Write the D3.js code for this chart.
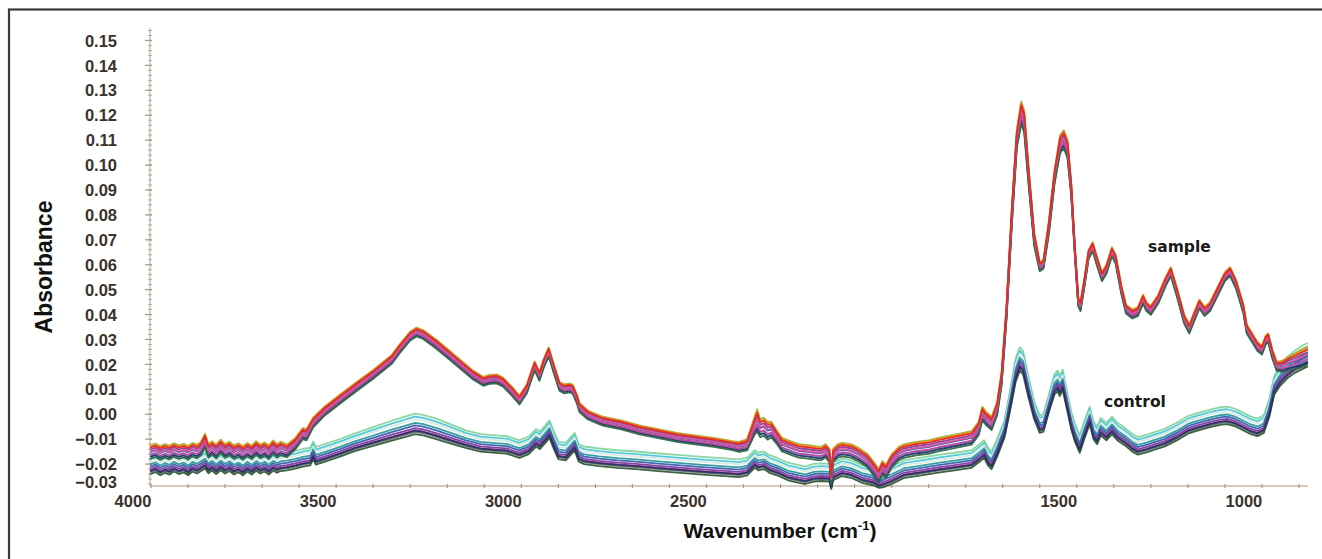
<!DOCTYPE html>
<html>
<head>
<meta charset="utf-8">
<script src="https://cdn.jsdelivr.net/npm/d3@7"></script>
<style>
  html, body { margin: 0; padding: 0; background: #ffffff; }
  svg { display: block; }
</style>
</head>
<body>
<svg id="chart" width="1322" height="559"></svg>
<script>
// ---------------- DATA ----------------
// Tick labels
const yTickLabels = [0.15, 0.14, 0.13, 0.12, 0.11, 0.10, 0.09, 0.08, 0.07, 0.06, 0.05, 0.04, 0.03, 0.02, 0.01, 0.00, -0.01, -0.02, -0.03];
const xTickLabels = [4000, 3500, 3000, 2500, 2000, 1500, 1000];

// Mean spectrum of the "sample" group: [wavenumber, absorbance, band half-width]
const sampleSpectrum = [
  [3952,-0.0155,0.003],[3938,-0.0148,0.003],[3925,-0.0158,0.003],[3912,-0.0150,0.003],[3900,-0.0157,0.003],
  [3888,-0.0146,0.003],[3875,-0.0155,0.003],[3862,-0.0149,0.003],[3850,-0.0157,0.003],[3838,-0.0145,0.003],
  [3826,-0.0152,0.003],[3815,-0.0140,0.003],[3804,-0.0108,0.003],[3795,-0.0150,0.003],[3785,-0.0138,0.003],
  [3774,-0.0152,0.003],[3762,-0.0132,0.003],[3750,-0.0150,0.003],[3738,-0.0140,0.003],[3726,-0.0155,0.003],
  [3714,-0.0147,0.003],[3702,-0.0158,0.003],[3690,-0.0145,0.003],[3678,-0.0156,0.003],[3666,-0.0138,0.003],
  [3655,-0.0152,0.003],[3643,-0.0143,0.003],[3632,-0.0155,0.003],[3620,-0.0135,0.003],[3610,-0.0150,0.003],
  [3600,-0.0140,0.003],[3583,-0.0150,0.0028],[3560,-0.0120,0.0025],[3540,-0.0080,0.0025],[3530,-0.0085,0.0025],
  [3512,-0.0035,0.0022],[3480,0.0012,0.002],[3440,0.0058,0.002],[3400,0.0103,0.002],[3350,0.0158,0.002],
  [3300,0.0218,0.002],[3278,0.0262,0.002],[3250,0.0312,0.002],[3233,0.0328,0.002],[3215,0.0318,0.002],
  [3180,0.0280,0.002],[3140,0.0230,0.002],[3100,0.0180,0.002],[3080,0.0155,0.002],[3053,0.0130,0.002],
  [3035,0.0138,0.002],[3017,0.0140,0.002],[3000,0.0128,0.002],[2975,0.0090,0.002],[2955,0.0055,0.002],
  [2935,0.0100,0.002],[2914,0.0192,0.002],[2901,0.0150,0.002],[2890,0.0200,0.002],[2876,0.0248,0.002],
  [2862,0.0180,0.002],[2847,0.0110,0.002],[2835,0.0100,0.002],[2820,0.0104,0.002],[2811,0.0098,0.002],
  [2800,0.0060,0.002],[2793,0.0025,0.002],[2770,-0.0005,0.002],[2730,-0.0030,0.002],[2680,-0.0045,0.002],
  [2631,-0.0065,0.002],[2580,-0.0080,0.002],[2530,-0.0095,0.002],[2480,-0.0105,0.002],[2430,-0.0115,0.002],
  [2380,-0.0128,0.002],[2362,-0.0133,0.0022],[2340,-0.0125,0.0025],[2320,-0.0050,0.004],[2313,-0.0030,0.005],
  [2305,-0.0060,0.004],[2295,-0.0055,0.004],[2285,-0.0070,0.004],[2275,-0.0065,0.0035],[2260,-0.0095,0.003],
  [2246,-0.0125,0.003],[2220,-0.0140,0.003],[2201,-0.0150,0.003],[2170,-0.0155,0.003],[2150,-0.0160,0.003],
  [2139,-0.0160,0.003],[2128,-0.0150,0.003],[2118,-0.0168,0.003],[2113,-0.0265,0.002],[2108,-0.0168,0.003],
  [2095,-0.0150,0.003],[2084,-0.0145,0.003],[2060,-0.0150,0.003],[2039,-0.0165,0.003],[2015,-0.0190,0.003],
  [1995,-0.0228,0.003],[1985,-0.0250,0.003],[1975,-0.0218,0.003],[1965,-0.0232,0.003],[1950,-0.0190,0.003],
  [1930,-0.0160,0.003],[1915,-0.0150,0.003],[1880,-0.0140,0.003],[1850,-0.0135,0.003],[1824,-0.0125,0.003],
  [1780,-0.0112,0.003],[1734,-0.0098,0.003],[1715,-0.0060,0.003],[1705,0.0000,0.003],[1695,-0.0020,0.003],
  [1680,-0.0040,0.003],[1665,0.0020,0.003],[1653,0.0140,0.003],[1640,0.0400,0.003],[1625,0.0800,0.004],
  [1612,0.1100,0.004],[1600,0.1205,0.005],[1592,0.1170,0.005],[1580,0.0950,0.004],[1565,0.0700,0.003],
  [1550,0.0590,0.002],[1540,0.0600,0.002],[1525,0.0750,0.003],[1510,0.0950,0.003],[1495,0.1080,0.004],
  [1485,0.1100,0.004],[1475,0.1060,0.004],[1465,0.0900,0.003],[1455,0.0650,0.002],[1446,0.0450,0.002],
  [1440,0.0430,0.002],[1430,0.0520,0.002],[1418,0.0640,0.002],[1407,0.0670,0.002],[1395,0.0610,0.002],
  [1382,0.0550,0.002],[1370,0.0580,0.002],[1355,0.0650,0.002],[1345,0.0620,0.002],[1330,0.0500,0.002],
  [1317,0.0420,0.002],[1300,0.0400,0.002],[1285,0.0410,0.002],[1271,0.0460,0.002],[1262,0.0430,0.002],
  [1250,0.0415,0.002],[1230,0.0460,0.002],[1210,0.0530,0.002],[1196,0.0570,0.002],[1180,0.0490,0.002],
  [1160,0.0380,0.002],[1146,0.0340,0.002],[1130,0.0400,0.002],[1119,0.0440,0.002],[1105,0.0410,0.002],
  [1090,0.0430,0.002],[1070,0.0490,0.002],[1050,0.0550,0.002],[1036,0.0570,0.002],[1020,0.0520,0.002],
  [1000,0.0420,0.002],[991,0.0340,0.002],[962,0.0270,0.002],[950,0.0255,0.002],[940,0.0295,0.002],
  [933,0.0305,0.002],[922,0.0240,0.002],[910,0.0190,0.002],[895,0.0190,0.0025],[880,0.0200,0.003],
  [860,0.0210,0.0035],[840,0.0222,0.004],[826,0.0232,0.004]
];

// Mean spectrum of the "control" group: [wavenumber, absorbance, band half-width]
const controlSpectrum = [
  [3952,-0.0210,0.003],[3938,-0.0202,0.003],[3925,-0.0215,0.003],[3912,-0.0205,0.003],[3900,-0.0212,0.003],
  [3888,-0.0200,0.003],[3875,-0.0210,0.003],[3862,-0.0203,0.003],[3850,-0.0215,0.003],[3838,-0.0200,0.003],
  [3826,-0.0208,0.003],[3815,-0.0198,0.003],[3804,-0.0188,0.003],[3795,-0.0207,0.003],[3785,-0.0196,0.003],
  [3774,-0.0210,0.003],[3762,-0.0195,0.003],[3750,-0.0208,0.003],[3738,-0.0198,0.003],[3726,-0.0212,0.003],
  [3714,-0.0203,0.003],[3702,-0.0215,0.003],[3690,-0.0200,0.003],[3678,-0.0212,0.003],[3666,-0.0197,0.003],
  [3655,-0.0208,0.003],[3643,-0.0200,0.003],[3632,-0.0212,0.003],[3620,-0.0196,0.003],[3610,-0.0205,0.003],
  [3600,-0.0198,0.003],[3583,-0.0195,0.003],[3560,-0.0188,0.003],[3540,-0.0180,0.003],[3520,-0.0175,0.003],
  [3512,-0.0150,0.003],[3505,-0.0172,0.003],[3480,-0.0160,0.003],[3440,-0.0140,0.003],[3400,-0.0118,0.003],
  [3350,-0.0095,0.0032],[3300,-0.0072,0.0034],[3260,-0.0055,0.0035],[3237,-0.0045,0.0035],[3215,-0.0050,0.0035],
  [3180,-0.0065,0.0035],[3140,-0.0085,0.0033],[3100,-0.0105,0.003],[3060,-0.0120,0.003],[3020,-0.0125,0.003],
  [2990,-0.0128,0.003],[2955,-0.0145,0.003],[2930,-0.0130,0.003],[2910,-0.0100,0.003],[2900,-0.0110,0.003],
  [2885,-0.0085,0.003],[2874,-0.0065,0.003],[2862,-0.0110,0.003],[2850,-0.0150,0.003],[2830,-0.0155,0.003],
  [2815,-0.0130,0.003],[2806,-0.0115,0.003],[2795,-0.0160,0.003],[2780,-0.0170,0.003],[2740,-0.0178,0.003],
  [2690,-0.0185,0.003],[2640,-0.0190,0.003],[2580,-0.0198,0.003],[2520,-0.0205,0.003],[2460,-0.0212,0.003],
  [2400,-0.0218,0.003],[2362,-0.0222,0.003],[2340,-0.0215,0.003],[2320,-0.0185,0.003],[2310,-0.0195,0.003],
  [2295,-0.0190,0.003],[2280,-0.0205,0.003],[2260,-0.0215,0.003],[2230,-0.0235,0.003],[2200,-0.0245,0.003],
  [2183,-0.0250,0.003],[2160,-0.0240,0.003],[2139,-0.0238,0.003],[2118,-0.0240,0.003],[2113,-0.0280,0.002],
  [2108,-0.0235,0.003],[2084,-0.0218,0.003],[2060,-0.0225,0.003],[2030,-0.0245,0.003],[2000,-0.0255,0.003],
  [1985,-0.0275,0.002],[1970,-0.0262,0.003],[1950,-0.0250,0.003],[1915,-0.0225,0.003],[1870,-0.0215,0.003],
  [1824,-0.0204,0.003],[1780,-0.0195,0.003],[1734,-0.0185,0.003],[1712,-0.0160,0.003],[1700,-0.0145,0.003],
  [1690,-0.0175,0.003],[1680,-0.0190,0.003],[1665,-0.0140,0.003],[1645,-0.0063,0.003],[1630,0.0050,0.0035],
  [1615,0.0170,0.004],[1604,0.0215,0.004],[1595,0.0200,0.004],[1580,0.0100,0.0035],[1565,0.0010,0.003],
  [1550,-0.0045,0.003],[1540,-0.0040,0.003],[1525,0.0040,0.003],[1510,0.0115,0.0035],[1502,0.0128,0.0035],
  [1496,0.0108,0.0035],[1488,0.0132,0.0035],[1478,0.0060,0.003],[1465,-0.0030,0.003],[1455,-0.0080,0.003],
  [1442,-0.0125,0.003],[1430,-0.0070,0.003],[1415,-0.0010,0.003],[1405,-0.0070,0.003],[1395,-0.0090,0.003],
  [1385,-0.0055,0.003],[1370,-0.0075,0.003],[1355,-0.0050,0.003],[1340,-0.0075,0.003],[1320,-0.0095,0.003],
  [1300,-0.0120,0.003],[1285,-0.0132,0.003],[1260,-0.0122,0.003],[1240,-0.0112,0.003],[1214,-0.0100,0.003],
  [1180,-0.0075,0.003],[1150,-0.0048,0.003],[1124,-0.0036,0.003],[1090,-0.0022,0.003],[1060,-0.0012,0.003],
  [1043,-0.0010,0.003],[1020,-0.0020,0.003],[1000,-0.0035,0.003],[980,-0.0050,0.003],[962,-0.0058,0.003],
  [945,-0.0045,0.003],[930,0.0020,0.003],[917,0.0110,0.0032],[900,0.0150,0.0034],[880,0.0182,0.0036],
  [860,0.0205,0.0038],[840,0.0222,0.004],[826,0.0232,0.004]
];

// Individual traces: colour and position within the group band (-1 = bottom, +1 = top)
const sampleNames   = ["S1", "S2", "S3", "S4", "S5", "S6", "S7", "S8", "S9", "S10"];
const sampleColors  = ["#9fae3a", "#f0901e", "#3fbfd6", "#3455b5", "#26306c", "#c2409a", "#2d6a46", "#8a3a9c", "#d8589a", "#e4281f"];
const sampleBand    = [1.0, 0.85, -0.35, 0.1, -0.55, -0.25, -0.8, 0.45, 0.2, 0.7];

const controlNames  = ["C1", "C2", "C3", "C4", "C5", "C6", "C7", "C8", "C9", "C10"];
const controlColors = ["#86d49c", "#4bc7d7", "#d8e8e0", "#2a9a9a", "#3a5cb0", "#7b3c9c", "#c4409c", "#6d6d6d", "#2e5a36", "#25306a"];
const controlBand   = [1.35, 1.0, 0.7, 0.3, 0.0, -0.3, -0.55, -0.75, -1.0, -0.6];

// Annotation labels: text, wavenumber, absorbance of the baseline
const groupLabels = [["sample", 1173, 0.0651], ["control", 1293, 0.0029]];

// ---------------- CHART ----------------
const svg = d3.select("#chart");

const x = d3.scaleLinear().domain([3952.7, 825.6]).range([150, 1308]);
const y = d3.scaleLinear().domain([-0.0288, 0.155]).range([486, 28]);

// outer frame
svg.append("rect")
  .attr("x", 9).attr("y", 9.5).attr("width", 1340).attr("height", 570)
  .attr("fill", "none").attr("stroke", "#3a3a3a").attr("stroke-width", 2.2);

const axisColor = "#c9b9a8";
const labelColor = "#3b322c";

// y axis line + ticks
const yMinor = d3.range(-28, 155, 2).map(d => d / 1000);
const yAxisG = svg.append("g").attr("transform", "translate(150,0)");
yAxisG.append("line").attr("x1", 0).attr("x2", 0).attr("y1", y.range()[1]).attr("y2", y.range()[0])
  .attr("stroke", axisColor).attr("stroke-width", 1.3);
yAxisG.selectAll("line.minor").data(yMinor).join("line").attr("class", "minor")
  .attr("x1", -2).attr("x2", 2)
  .attr("y1", d => y(d)).attr("y2", d => y(d))
  .attr("stroke", "#b8a898").attr("stroke-width", 1);
yAxisG.selectAll("line.major").data(yTickLabels.filter(d => d >= y.domain()[0])).join("line").attr("class", "major")
  .attr("x1", -5).attr("x2", 2)
  .attr("y1", d => y(d)).attr("y2", d => y(d))
  .attr("stroke", "#a89888").attr("stroke-width", 1.2);

// y tick labels
const yLab = y.copy().clamp(true);
const yLabels = svg.append("g").attr("transform", "translate(150,0)")
  .call(d3.axisLeft(yLab).tickValues(yTickLabels).tickSize(0).tickPadding(33).tickFormat(d3.format(".2f")));
yLabels.select(".domain").remove();
yLabels.selectAll("text")
  .attr("fill", labelColor)
  .style("font-family", "'Liberation Sans', Arial, sans-serif")
  .style("font-weight", "bold")
  .style("font-size", "16.5px")
  .attr("dy", d => d < y.domain()[0] ? "0.1em" : "0.34em");

// x axis line + ticks
const xMinor = d3.range(3950, 825, -100);
const xAxisG = svg.append("g").attr("transform", "translate(0,486)");
xAxisG.append("line").attr("x1", x.range()[0]).attr("x2", x.range()[1]).attr("y1", 0).attr("y2", 0)
  .attr("stroke", axisColor).attr("stroke-width", 1.5);
xAxisG.selectAll("line.tk").data(xMinor).join("line").attr("class", "tk")
  .attr("x1", d => x(d)).attr("x2", d => x(d)).attr("y1", -2).attr("y2", 2)
  .attr("stroke", "#a89888").attr("stroke-width", 1.2);

// x tick labels
const xLabels = svg.append("g").attr("transform", "translate(0,486)")
  .call(d3.axisBottom(x).tickValues(xTickLabels).tickSize(0).tickPadding(9).tickFormat(d3.format("d")));
xLabels.select(".domain").remove();
xLabels.selectAll("text")
  .attr("fill", labelColor)
  .style("font-family", "'Liberation Sans', Arial, sans-serif")
  .style("font-weight", "bold")
  .style("font-size", "16.5px");

// traces
const line = d3.line().x(d => x(d[0])).y(d => y(d[1]));

function traces(spectrum, names, colors, band, cls) {
  const series = names.map((n, i) => ({
    name: n,
    color: colors[i],
    values: spectrum.map(p => [p[0], p[1] + band[i] * p[2]])
  }));
  svg.append("g").attr("class", cls)
    .selectAll("path").data(series).join("path")
    .attr("d", s => line(s.values))
    .attr("fill", "none")
    .attr("stroke", s => s.color)
    .attr("stroke-width", 1.8)
    .attr("stroke-linejoin", "round")
    .attr("opacity", 0.95);
}
traces(controlSpectrum, controlNames, controlColors, controlBand, "control");
traces(sampleSpectrum, sampleNames, sampleColors, sampleBand, "sample");

// annotations
svg.append("g").selectAll("text").data(groupLabels).join("text")
  .attr("x", d => x(d[1])).attr("y", d => y(d[2]))
  .attr("text-anchor", "middle")
  .style("font-family", "'DejaVu Sans', Verdana, sans-serif")
  .style("font-weight", "bold").style("font-size", "15.5px").attr("fill", "#1a1a1a")
  .text(d => d[0]);

// axis titles
svg.append("text")
  .attr("transform", "translate(52,267) rotate(-90)")
  .attr("text-anchor", "middle")
  .style("font-family", "'Liberation Sans', Arial, sans-serif")
  .style("font-weight", "bold").style("font-size", "23px").attr("fill", "#111")
  .text("Absorbance");

const xt = svg.append("text")
  .attr("x", 780).attr("y", 538)
  .attr("text-anchor", "middle")
  .style("font-family", "'Liberation Sans', Arial, sans-serif")
  .style("font-weight", "bold").style("font-size", "21px").attr("fill", "#111");
xt.append("tspan").text("Wavenumber (cm");
xt.append("tspan").attr("dy", "-8").style("font-size", "13px").text("-1");
xt.append("tspan").attr("dy", "8").text(")");
</script>
</body>
</html>
